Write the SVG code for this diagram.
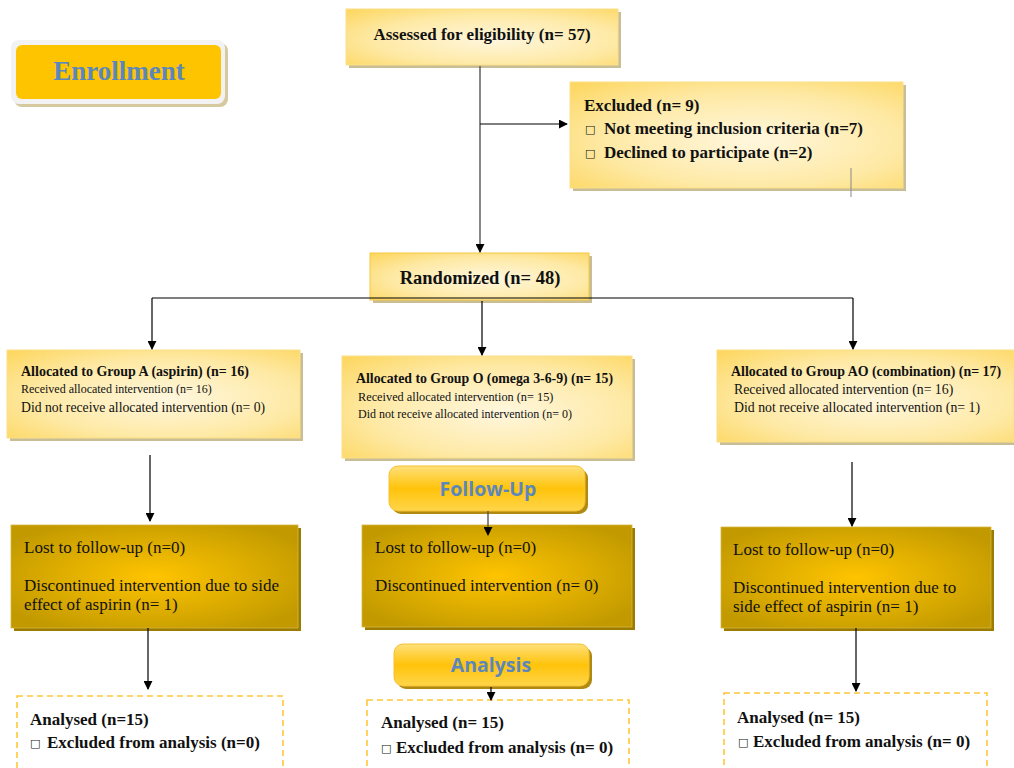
<svg xmlns="http://www.w3.org/2000/svg" width="1014" height="768" viewBox="0 0 1014 768">
<defs>
<radialGradient id="light" cx="0.55" cy="0.55" r="0.75">
<stop offset="0" stop-color="#fff7de"/>
<stop offset="0.6" stop-color="#fee9a4"/>
<stop offset="1" stop-color="#fdd761"/>
</radialGradient>
<radialGradient id="dark" cx="0.5" cy="0.5" r="0.6">
<stop offset="0" stop-color="#ffc400"/>
<stop offset="1" stop-color="#c29a00"/>
</radialGradient>
<linearGradient id="btn" x1="0" y1="0" x2="0" y2="1">
<stop offset="0" stop-color="#ffe07a"/>
<stop offset="0.5" stop-color="#ffc30a"/>
<stop offset="1" stop-color="#ffd54a"/>
</linearGradient>
<marker id="arr" viewBox="0 0 10 10" refX="9" refY="5" markerWidth="9" markerHeight="9" markerUnits="userSpaceOnUse" orient="auto">
<path d="M0,0 L10,5 L0,10 z" fill="#000"/>
</marker>
</defs>
<style>
.shadow{fill:#c9bd95;}
.lbox{fill:url(#light);stroke:#fbe08a;stroke-width:1;}
.dbox{fill:url(#dark);stroke:#d8b640;stroke-width:0.8;}
.dshadow{fill:#9c7c00;}
.abox{fill:#fff;stroke:#ffc83a;stroke-width:1.6;stroke-dasharray:6 4;}
.t{font-family:"Liberation Serif","Times New Roman",serif;fill:#111;}
.b{font-weight:bold;}
.bul{font-family:"DejaVu Sans",sans-serif;font-size:11px;fill:#111;}
.btxt{font-family:"Open Sans","Noto Sans",sans-serif;font-weight:bold;fill:#5b87bd;font-size:19.5px;text-anchor:middle;}
.ln{stroke:#000;stroke-width:1.2;fill:none;}
.ln2{stroke:#555;stroke-width:1.4;fill:none;}
</style>

<g id="enrollment">
<rect x="14" y="43" width="214" height="64" rx="8" fill="#d6c9a0"/>
<rect x="11" y="40" width="214" height="64" rx="8" fill="#f2f2f2"/>
<rect x="16" y="45" width="205" height="54" rx="6" fill="#ffc400"/>
<text x="119" y="80" class="t b" font-size="27" text-anchor="middle" style="fill:#5b87bd">Enrollment</text>
</g>

<g id="assessed">
<rect x="349" y="12" width="272" height="56" class="shadow"/>
<rect x="346" y="9" width="272" height="56" class="lbox"/>
<text x="482" y="40" class="t b" font-size="17" text-anchor="middle">Assessed for eligibility (n= 57)</text>
</g>

<g id="excluded">
<rect x="573" y="85" width="333" height="106" class="shadow"/>
<rect x="570" y="82" width="333" height="106" class="lbox"/>
<text x="584" y="111" class="t b" font-size="17">Excluded (n= 9)</text>
<text x="585" y="133" class="bul">□</text>
<text x="604" y="134" class="t b" font-size="17">Not meeting inclusion criteria (n=7)</text>
<text x="585" y="157" class="bul">□</text>
<text x="604" y="158" class="t b" font-size="17">Declined to participate (n=2)</text>
<line x1="851" y1="168" x2="851" y2="197" stroke="#888" stroke-width="1"/>
</g>

<g id="randomized">
<rect x="373" y="256" width="219" height="47" class="shadow"/>
<rect x="370" y="253" width="219" height="47" class="lbox" style="stroke:#f5c842"/>
<text x="480" y="284" class="t b" font-size="18.5" text-anchor="middle">Randomized (n= 48)</text>
</g>

<g id="groupA">
<rect x="10" y="353" width="293" height="88" class="shadow"/>
<rect x="7" y="350" width="293" height="88" class="lbox"/>
<text x="21" y="376" class="t b" font-size="14">Allocated to Group A (aspirin) (n= 16)</text>
<text x="21" y="393" class="t" font-size="12">Received allocated intervention (n= 16)</text>
<text x="21" y="412" class="t" font-size="13.7">Did not receive allocated intervention (n= 0)</text>
</g>

<g id="groupO">
<rect x="345" y="359" width="290" height="102" class="shadow"/>
<rect x="342" y="356" width="290" height="102" class="lbox"/>
<text x="356" y="383" class="t b" font-size="13.8">Allocated to Group O (omega 3-6-9) (n= 15)</text>
<text x="358" y="401" class="t" font-size="12.3">Received allocated intervention (n= 15)</text>
<text x="358" y="418" class="t" font-size="12">Did not receive allocated intervention (n= 0)</text>
</g>

<g id="groupAO">
<rect x="720" y="353" width="297" height="92" class="shadow"/>
<rect x="717" y="350" width="297" height="92" class="lbox"/>
<text x="731" y="376" class="t b" font-size="13.9">Allocated to Group AO (combination) (n= 17)</text>
<text x="734" y="394" class="t" font-size="13.8">Received allocated intervention (n= 16)</text>
<text x="734" y="412" class="t" font-size="13.8">Did not receive allocated intervention (n= 1)</text>
</g>

<g id="followup">
<rect x="392" y="469" width="196" height="45" rx="9" fill="#b08a10"/>
<rect x="389" y="466" width="196" height="45" rx="9" fill="url(#btn)" stroke="#f5c030" stroke-width="1"/>
<text x="488" y="496" class="btxt">Follow-Up</text>
</g>

<g id="lostA">
<rect x="14" y="528" width="287" height="103" class="dshadow"/>
<rect x="11" y="525" width="287" height="103" class="dbox"/>
<text x="24" y="553" class="t" font-size="17">Lost to follow-up (n=0)</text>
<text x="24" y="591" class="t" font-size="17">Discontinued intervention due to side</text>
<text x="24" y="610" class="t" font-size="17">effect of aspirin (n= 1)</text>
</g>

<g id="lostO">
<rect x="365" y="528" width="270" height="102" class="dshadow"/>
<rect x="362" y="525" width="270" height="102" class="dbox"/>
<text x="375" y="553" class="t" font-size="17">Lost to follow-up (n=0)</text>
<text x="375" y="591" class="t" font-size="17">Discontinued intervention (n= 0)</text>
</g>

<g id="lostAO">
<rect x="724" y="530" width="270" height="101" class="dshadow"/>
<rect x="721" y="527" width="270" height="101" class="dbox"/>
<text x="733" y="555" class="t" font-size="17">Lost to follow-up (n=0)</text>
<text x="733" y="593" class="t" font-size="17">Discontinued intervention due to</text>
<text x="733" y="612" class="t" font-size="17">side effect of aspirin (n= 1)</text>
</g>

<g id="analysis">
<rect x="397" y="647" width="195" height="42" rx="9" fill="#b08a10"/>
<rect x="394" y="644" width="195" height="42" rx="9" fill="url(#btn)" stroke="#f5c030" stroke-width="1"/>
<text x="491" y="672" class="btxt">Analysis</text>
</g>

<g id="analysedA">
<rect x="17" y="696" width="266" height="80" class="abox"/>
<text x="30" y="725" class="t b" font-size="17">Analysed (n=15)</text>
<text x="30" y="747" class="bul">□</text>
<text x="47" y="748" class="t b" font-size="17">Excluded from analysis (n=0)</text>
</g>

<g id="analysedO">
<rect x="367" y="700" width="262" height="76" class="abox"/>
<text x="381" y="728" class="t b" font-size="17">Analysed (n= 15)</text>
<text x="381" y="752" class="bul">□</text>
<text x="396" y="753" class="t b" font-size="17">Excluded from analysis (n= 0)</text>
</g>

<g id="analysedAO">
<rect x="724" y="693" width="263" height="83" class="abox"/>
<text x="737" y="723" class="t b" font-size="17">Analysed (n= 15)</text>
<text x="738" y="746" class="bul">□</text>
<text x="753" y="747" class="t b" font-size="17">Excluded from analysis (n= 0)</text>
</g>

<g id="connectors">
<line x1="480" y1="66" x2="480" y2="252" class="ln2" marker-end="url(#arr)"/>
<line x1="480" y1="124" x2="567" y2="124" class="ln" marker-end="url(#arr)"/>
<polyline points="152,298 853,298" class="ln"/>
<line x1="152" y1="298" x2="152" y2="349" class="ln" marker-end="url(#arr)"/>
<line x1="482" y1="301" x2="482" y2="355" class="ln" marker-end="url(#arr)"/>
<line x1="853" y1="298" x2="853" y2="349" class="ln" marker-end="url(#arr)"/>
<line x1="150" y1="455" x2="150" y2="521" class="ln" marker-end="url(#arr)"/>
<line x1="488" y1="511" x2="488" y2="535" class="ln2" marker-end="url(#arr)"/>
<line x1="852" y1="462" x2="852" y2="526" class="ln" marker-end="url(#arr)"/>
<line x1="148" y1="628" x2="148" y2="689" class="ln" marker-end="url(#arr)"/>
<line x1="491" y1="687" x2="491" y2="700" class="ln" marker-end="url(#arr)"/>
<line x1="856" y1="628" x2="856" y2="691" class="ln" marker-end="url(#arr)"/>
</g>
</svg>
